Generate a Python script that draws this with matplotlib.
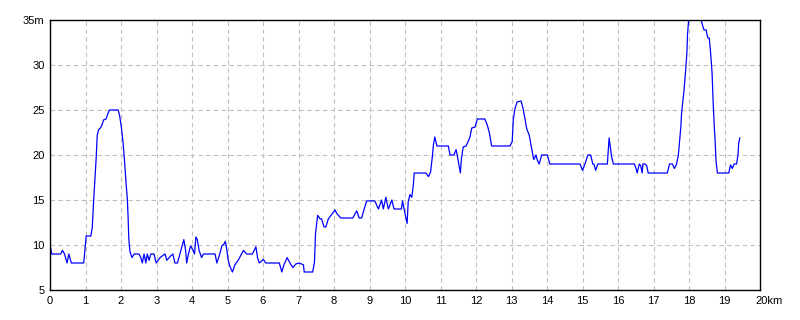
# Elevation profile along the route
import matplotlib
matplotlib.use("Agg")
import matplotlib.pyplot as plt
import matplotlib.transforms as mtransforms

# distance along route [km] and elevation [m]
dist_km = [
    0.00, 0.05, 0.30, 0.35, 0.41, 0.48, 0.53, 0.60, 0.95, 0.98,
    1.02, 1.15, 1.19, 1.23, 1.26, 1.30, 1.33, 1.37, 1.42, 1.46,
    1.51, 1.58, 1.63, 1.68, 1.92, 1.96, 2.01, 2.06, 2.10, 2.15,
    2.18, 2.20, 2.22, 2.25, 2.31, 2.37, 2.50, 2.55, 2.60, 2.65,
    2.70, 2.74, 2.79, 2.84, 2.93, 2.99, 3.10, 3.24, 3.29, 3.38,
    3.46, 3.52, 3.59, 3.66, 3.74, 3.77, 3.82, 3.85, 3.90, 3.96,
    4.02, 4.07, 4.11, 4.15, 4.20, 4.27, 4.32, 4.65, 4.70, 4.79,
    4.84, 4.90, 4.94, 4.98, 5.02, 5.07, 5.14, 5.21, 5.30, 5.45,
    5.54, 5.70, 5.80, 5.85, 5.90, 6.01, 6.08, 6.46, 6.53, 6.59,
    6.68, 6.76, 6.84, 6.93, 7.02, 7.14, 7.16, 7.40, 7.45, 7.48,
    7.54, 7.61, 7.65, 7.72, 7.77, 7.84, 8.03, 8.08, 8.19, 8.53,
    8.64, 8.71, 8.78, 8.85, 8.92, 9.15, 9.25, 9.34, 9.39, 9.46,
    9.53, 9.63, 9.69, 9.90, 9.93, 10.00, 10.06, 10.09, 10.14, 10.19,
    10.23, 10.26, 10.59, 10.66, 10.72, 10.77, 10.80, 10.84, 10.87, 10.90,
    11.22, 11.27, 11.38, 11.44, 11.47, 11.52, 11.56, 11.59, 11.64, 11.72,
    11.78, 11.83, 11.88, 11.97, 12.04, 12.25, 12.32, 12.38, 12.41, 12.44,
    12.96, 13.02, 13.05, 13.10, 13.16, 13.27, 13.33, 13.38, 13.43, 13.50,
    13.55, 13.60, 13.63, 13.69, 13.73, 13.78, 13.85, 14.01, 14.08, 14.93,
    15.00, 15.07, 15.15, 15.23, 15.29, 15.32, 15.37, 15.43, 15.70, 15.75,
    15.77, 15.82, 15.87, 16.46, 16.51, 16.54, 16.60, 16.64, 16.68, 16.70,
    16.76, 16.81, 16.85, 17.39, 17.45, 17.53, 17.59, 17.65, 17.70, 17.73,
    17.77, 17.79, 17.82, 17.86, 17.90, 17.94, 17.96, 17.99, 18.34, 18.39,
    18.42, 18.48, 18.53, 18.57, 18.61, 18.65, 18.68, 18.71, 18.74, 18.76,
    18.80, 19.12, 19.17, 19.22, 19.27, 19.34, 19.38, 19.40, 19.43,
]
elev_m = [
    10.0, 9.0, 9.0, 9.4, 9.0, 8.0, 9.0, 8.0, 8.0, 9.3,
    11.0, 11.0, 11.9, 15.0, 16.9, 19.6, 22.2, 22.8, 23.0, 23.3,
    23.9, 24.0, 24.6, 25.0, 25.0, 24.4, 23.1, 21.3, 19.3, 16.5,
    15.0, 13.1, 10.7, 9.3, 8.6, 9.0, 9.0, 8.7, 8.0, 9.0,
    8.0, 9.0, 8.3, 9.0, 9.0, 8.0, 8.6, 9.0, 8.3, 8.7,
    9.0, 8.0, 8.0, 9.0, 10.1, 10.6, 9.4, 8.0, 9.0, 9.9,
    9.5, 9.0, 10.9, 10.6, 9.4, 8.6, 9.0, 9.0, 8.0, 9.1,
    9.9, 10.1, 10.4, 9.5, 8.3, 7.6, 7.0, 7.8, 8.3, 9.4,
    9.0, 9.0, 9.8, 8.5, 8.0, 8.4, 8.0, 8.0, 7.0, 7.8,
    8.6, 8.0, 7.5, 7.9, 8.0, 7.8, 7.0, 7.0, 8.1, 11.3,
    13.3, 12.9, 12.9, 12.0, 12.0, 12.9, 13.9, 13.5, 13.0, 13.0,
    13.8, 13.0, 13.0, 14.0, 14.9, 14.9, 14.0, 15.0, 14.0, 15.3,
    14.0, 15.0, 14.0, 14.0, 14.9, 13.5, 12.4, 14.8, 15.6, 15.3,
    16.5, 18.0, 18.0, 17.6, 18.1, 19.8, 21.1, 22.0, 21.5, 21.0,
    21.0, 20.0, 20.0, 20.6, 20.0, 18.9, 18.0, 19.6, 20.9, 21.0,
    21.5, 22.0, 23.0, 23.1, 24.0, 24.0, 23.3, 22.4, 21.7, 21.0,
    21.0, 21.5, 23.9, 25.2, 25.9, 26.0, 25.1, 24.0, 22.9, 22.2,
    21.1, 20.0, 19.5, 20.0, 19.4, 19.0, 20.0, 20.0, 19.0, 19.0,
    18.3, 19.0, 20.0, 20.0, 19.0, 19.0, 18.3, 19.0, 19.0, 21.9,
    21.3, 19.8, 19.0, 19.0, 18.5, 18.0, 19.0, 18.8, 18.0, 19.0,
    19.0, 18.8, 18.0, 18.0, 19.0, 19.0, 18.5, 19.0, 20.0, 21.3,
    23.1, 24.6, 25.7, 27.2, 29.1, 31.3, 33.5, 35.0, 35.0, 34.3,
    33.9, 33.9, 33.0, 33.0, 31.3, 29.1, 25.9, 23.3, 21.3, 19.4,
    18.0, 18.0, 18.9, 18.5, 19.0, 19.0, 20.0, 21.3, 21.9,
]

x_ticks = list(range(0, 21))
x_labels = [str(v) for v in range(0, 20)] + ["20km"]
y_ticks = [5, 10, 15, 20, 25, 30, 35]
y_labels = ["5", "10", "15", "20", "25", "30", "35m"]

plt.rcParams["font.family"] = ["Liberation Sans", "DejaVu Sans"]

fig = plt.figure(figsize=(8, 3.2), dpi=100)
ax = fig.add_axes([50 / 800, 30 / 320, 710 / 800, 270 / 320])

ax.plot(dist_km, elev_m, color="#0000ff", linewidth=0.9)

ax.set_xlim(0, 20)
ax.set_ylim(5, 35)
ax.set_xticks(x_ticks)
ax.set_xticklabels(x_labels)
ax.set_yticks(y_ticks)
ax.set_yticklabels(y_labels)
ax.tick_params(length=0, labelsize=8, pad=4)

ax.grid(True, color="#c0c0c0", linestyle=(0, (4, 3)), linewidth=0.8)
for s in ax.spines.values():
    s.set_color("black")
    s.set_linewidth(1)

# unit labels sit just past the tick like the original
last = ax.get_xticklabels()[-1]
last.set_horizontalalignment("left")
last.set_transform(last.get_transform() + mtransforms.ScaledTranslation(-5 / 100, 0, fig.dpi_scale_trans))

fig.savefig("out.png", dpi=100, facecolor="white")
